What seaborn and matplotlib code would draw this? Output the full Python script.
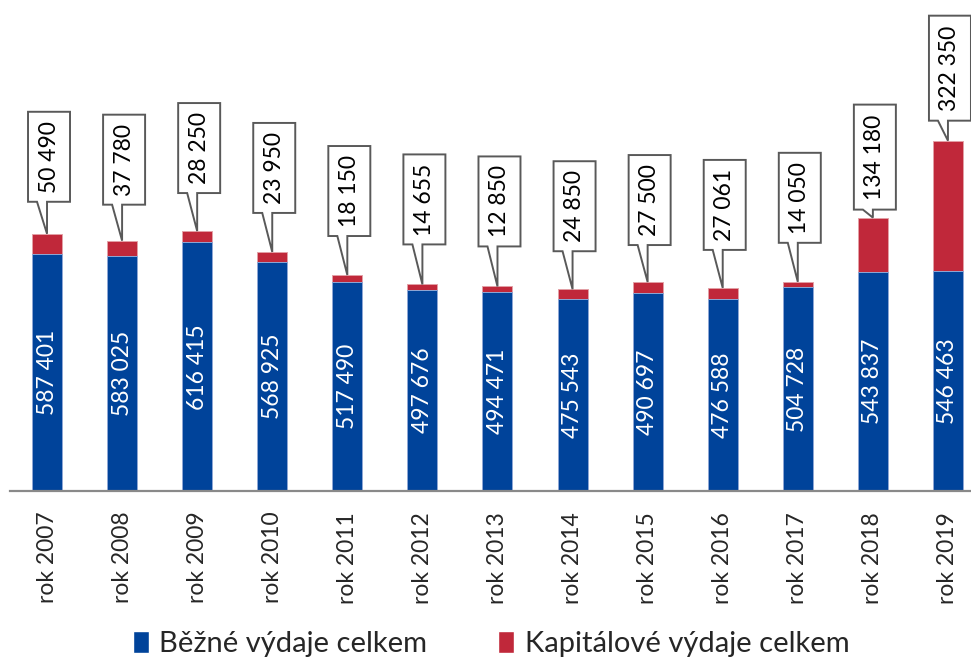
import matplotlib
matplotlib.use('Agg')
import matplotlib.pyplot as plt
import matplotlib.transforms as mtransforms
from matplotlib.patches import Polygon, Patch
import seaborn as sns
import pandas as pd

# data
years = ['rok 2007', 'rok 2008', 'rok 2009', 'rok 2010', 'rok 2011', 'rok 2012', 'rok 2013',
         'rok 2014', 'rok 2015', 'rok 2016', 'rok 2017', 'rok 2018', 'rok 2019']
bezne = [587401, 583025, 616415, 568925, 517490, 497676, 494471,
         475543, 490697, 476588, 504728, 543837, 546463]
kapitalove = [50490, 37780, 28250, 23950, 18150, 14655, 12850,
              24850, 27500, 27061, 14050, 134180, 322350]

# gap (px) between bar top and callout box
callout_gap = [32, 36, 38, 39, 39, 40, 40, 38, 37, 38, 39, 8, 20]

blue = '#00439A'
red = '#C0283A'

df = pd.DataFrame({'rok': years, 'bezne': bezne, 'kapitalove': kapitalove})
df['celkem'] = df['bezne'] + df['kapitalove']

sns.set_style('white')
plt.rcParams['font.family'] = ['Lato', 'DejaVu Sans']

fig = plt.figure(figsize=(9.71, 6.59), dpi=100)
ax = fig.add_axes([10 / 971, 168 / 659, 961 / 971, 491 / 659])

sns.barplot(data=df, x='rok', y='celkem', color=red, width=0.4, saturation=1,
            edgecolor='#e3a0a6', linewidth=0.7, ax=ax)
sns.barplot(data=df, x='rok', y='bezne', color=blue, width=0.4, saturation=1,
            edgecolor='#8fa8d6', linewidth=0.7, ax=ax)

ax.set_xlim(-0.493, 12.307)
ax.set_ylim(0, 491 * 2480)
ax.set_xlabel('')
ax.set_ylabel('')
ax.set_yticks([])
for s in ['top', 'right', 'left']:
    ax.spines[s].set_visible(False)
ax.spines['bottom'].set_color('#898989')
ax.spines['bottom'].set_linewidth(1.6)
ax.tick_params(axis='x', length=0, pad=15, labelsize=16.5, rotation=90)
for lab in ax.get_xticklabels():
    lab.set_verticalalignment('top')

# values inside blue bars
for i, v in enumerate(df['bezne']):
    ax.text(i, v / 2, f'{v:,}'.replace(',', ' '), rotation=90, ha='center', va='center',
            color='white', fontsize=16.5)

# callouts for capital expenditure
for i, (tot, k) in enumerate(zip(df['celkem'], df['kapitalove'])):
    label = f'{k:,}'.replace(',', ' ')
    g = callout_gap[i]
    h = 90 if len(label) < 7 else 105
    trans = fig.dpi_scale_trans + mtransforms.ScaledTranslation(i, tot, ax.transData)
    pts = [(0, 0), (-10, g), (-19, g), (-19, g + h), (23, g + h), (23, g), (0, g)]
    pts = [(x / 100, y / 100) for x, y in pts]
    ax.add_patch(Polygon(pts, closed=True, transform=trans, facecolor='white',
                         edgecolor='#595959', linewidth=1.4, clip_on=False, zorder=5))
    ax.annotate(label, xy=(i, tot), xytext=(2, g + h / 2), textcoords='offset pixels',
                rotation=90, ha='center', va='center', fontsize=16.5, color='black',
                zorder=6, annotation_clip=False)

handles = [Patch(facecolor=blue), Patch(facecolor=red)]
fig.legend(handles, ['Běžné výdaje celkem', 'Kapitálové výdaje celkem'],
           loc='center', bbox_to_anchor=(491 / 971, 1 - 644 / 659), ncol=2, frameon=False,
           fontsize=21, handlelength=0.55, handleheight=0.8, handletextpad=0.35,
           columnspacing=2.45)

fig.savefig('out.png', dpi=100)
